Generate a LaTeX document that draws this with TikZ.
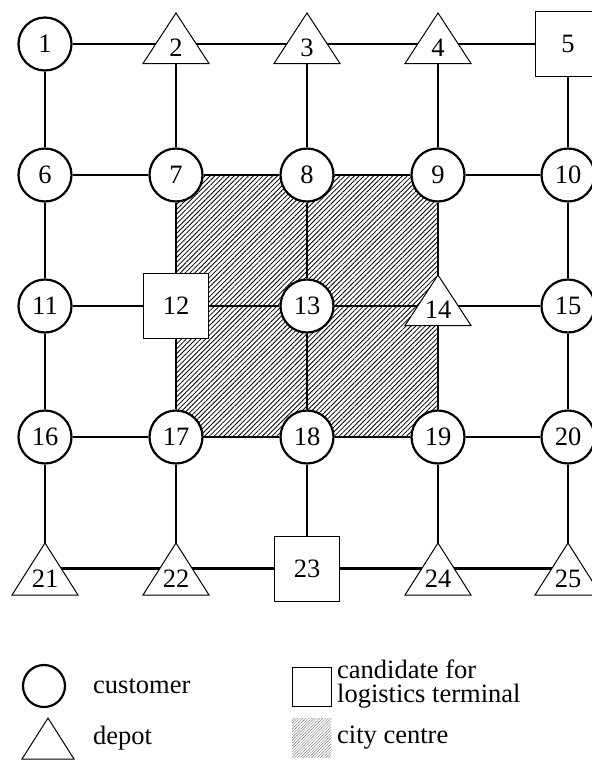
\documentclass[tikz,border=0pt]{standalone}
\usepackage{fontspec}
\setmainfont{Liberation Serif}
\usetikzlibrary{calc,backgrounds,patterns.meta}
\begin{document}
\begin{tikzpicture}[x=1pt,y=-1pt,
  every node/.style={font=\fontsize{26.5}{24}\selectfont},
  cust/.style={circle, draw, line width=2.2pt, fill=white, minimum size=53pt, inner sep=0pt},
  term/.style={rectangle, draw, line width=1pt, fill=white, minimum size=65pt, inner sep=0pt},
  depA/.style={inner sep=0pt, text height=25pt, text depth=0pt},
  depB/.style={inner sep=0pt, text height=38pt, text depth=0pt},
  tri/.style={draw, line width=1pt, fill=white, line join=miter},
  link/.style={line width=2.2pt},
  hatch/.style={pattern={Lines[angle=45,distance=3.4pt,line width=0.8pt]}},
  lighthatch/.style={pattern={Lines[angle=45,distance=2pt,line width=0.45pt]}, pattern color=gray}
]
\useasboundingbox (0,0) rectangle (592,761);

% row 1
\node[cust] (n1) at (45,44) {1};
\node[depA] (n2) at (176,44) {2};
\node[depA] (n3) at (307,44) {3};
\node[depA] (n4) at (438,44) {4};
\node[term] (n5) at (568,44) {5};
% row 2
\node[cust] (n6) at (45,175) {6};
\node[cust] (n7) at (176,175) {7};
\node[cust] (n8) at (307,175) {8};
\node[cust] (n9) at (438,175) {9};
\node[cust] (n10) at (568,175) {10};
% row 3
\node[cust] (n11) at (45,306) {11};
\node[term] (n12) at (176,306) {12};
\node[cust] (n13) at (307,306) {13};
\node[depA] (n14) at (438,306) {14};
\node[cust] (n15) at (568,306) {15};
% row 4
\node[cust] (n16) at (45,437) {16};
\node[cust] (n17) at (176,437) {17};
\node[cust] (n18) at (307,437) {18};
\node[cust] (n19) at (438,437) {19};
\node[cust] (n20) at (568,437) {20};
% row 5
\node[depB] (n21) at (45,568.5) {21};
\node[depB] (n22) at (176,568.5) {22};
\node[term] (n23) at (307,568.5) {23};
\node[depB] (n24) at (438,568.5) {24};
\node[depB] (n25) at (568,568.5) {25};

\begin{scope}[on background layer]
  \fill[hatch] (176,175) rectangle (438,437);
  \foreach \a/\b in {1/2,2/3,3/4,4/5,6/7,7/8,8/9,9/10,11/12,12/13,13/14,14/15,
                     16/17,17/18,18/19,19/20,21/22,22/23,23/24,24/25,
                     1/6,6/11,11/16,16/21,2/7,7/12,12/17,17/22,3/8,8/13,13/18,18/23,
                     4/9,9/14,14/19,19/24,5/10,10/15,15/20,20/25}
    \draw[link] (n\a) -- (n\b);
  \foreach \n in {2,3,4,14}
    \draw[tri] ($(n\n)+(-33,19.5)$) -- ($(n\n)+(0,-31)$) -- ($(n\n)+(33,19.5)$) -- cycle;
  \foreach \n in {21,22,24,25}
    \draw[tri] ($(n\n)+(-33,26.5)$) -- ($(n\n)+(0,-25.5)$) -- ($(n\n)+(33,26.5)$) -- cycle;
\end{scope}

% legend
\node[cust, minimum size=42pt] (lc) at (44,686) {};
\node[anchor=base west, inner sep=0pt] (lct) at (93,693) {customer};
\draw[tri] (22,759) -- (48,718) -- (74,759) -- cycle;
\node[anchor=base west, inner sep=0pt] (ldt) at (93,744) {depot};
\node[term, minimum size=39pt] (ls) at (311.5,686.5) {};
\node[anchor=base west, align=left, inner sep=0pt] (lst) at (337,702) {candidate for\\logistics terminal};
\fill[lighthatch] (292,718) rectangle (331,757);
\node[anchor=base west, inner sep=0pt] (lht) at (337,743) {city centre};
\end{tikzpicture}
\end{document}
